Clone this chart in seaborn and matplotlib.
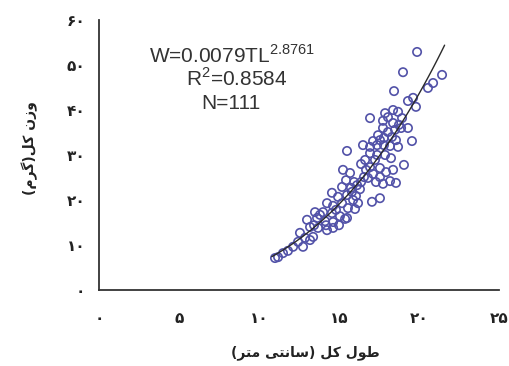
import matplotlib
matplotlib.use("Agg")
import matplotlib.pyplot as plt
import seaborn as sns
import numpy as np
import pandas as pd

# ---- data ----
total_length = [19.88, 19.0, 21.44, 20.88, 20.56, 18.44, 19.63, 19.31, 19.81, 18.38,
                17.88, 18.69, 16.94, 18.06, 17.75, 18.38, 18.75, 17.75, 18.06, 18.5,
                18.88, 19.31, 17.44, 17.81, 18.31, 19.56, 17.13, 16.5, 16.94, 17.38,
                17.81, 18.19, 18.69, 15.5, 16.94, 17.38, 17.88, 18.25, 16.63, 16.38,
                19.06, 16.94, 17.56, 17.94, 18.38, 15.25, 15.69, 16.56, 17.13, 17.56,
                15.44, 15.94, 16.38, 17.31, 17.75, 18.19, 16.81, 18.56, 15.19, 15.75,
                16.31, 14.56, 14.94, 15.5, 15.88, 16.19, 17.06, 17.56, 14.25, 14.63,
                15.19, 15.56, 16.0, 13.5, 14.0, 14.56, 15.06, 15.5, 13.0, 13.63,
                14.13, 14.63, 15.0, 15.38, 13.19, 13.69, 14.25, 14.63, 13.44, 12.56,
                12.88, 13.38, 12.44, 12.13, 12.75, 11.81, 11.5, 11.19, 11.0, 13.19,
                13.81, 14.81, 15.81, 16.13, 16.69, 17.25, 17.56, 18.56, 18.94, 14.19,
                16.06]
total_weight = [52.9, 48.4, 47.8, 46.0, 44.9, 44.2, 42.7, 42.0, 40.7, 40.0,
                39.3, 39.6, 38.2, 38.4, 37.6, 37.1, 36.7, 36.0, 35.1, 35.6,
                36.0, 36.0, 34.4, 33.8, 34.0, 33.1, 33.1, 32.2, 31.8, 32.2,
                32.2, 32.0, 31.8, 30.9, 30.4, 30.0, 30.0, 29.3, 28.9, 28.0,
                27.8, 27.3, 27.1, 26.2, 26.7, 26.7, 26.0, 25.1, 25.8, 25.1,
                24.4, 24.0, 24.0, 24.0, 23.6, 24.2, 24.9, 23.8, 22.9, 22.7,
                22.4, 21.6, 20.7, 21.1, 20.0, 19.3, 19.6, 20.4, 19.3, 18.7,
                19.3, 18.2, 18.0, 17.3, 17.3, 17.1, 16.4, 16.0, 15.6, 16.0,
                15.3, 15.1, 14.4, 15.8, 14.0, 13.8, 13.3, 13.8, 14.4, 12.7,
                11.6, 11.8, 10.7, 9.6, 9.6, 8.7, 8.2, 7.3, 7.1, 11.1,
                16.7, 17.8, 21.8, 23.3, 26.7, 28.9, 33.3, 33.3, 38.2, 14.4,
                20.9]

fit_a = 0.0079
fit_b = 2.8761
fit_r2 = 0.8584
n_obs = 111
fit_range = [10.8, 21.6]

x_ticks = [0, 5, 10, 15, 20, 25]
x_tick_labels = ["۰", "۵", "۱۰", "۱۵", "۲۰", "۲۵"]
y_ticks = [0, 10, 20, 30, 40, 50, 60]
y_tick_labels = ["۰", "۱۰", "۲۰", "۳۰", "۴۰", "۵۰", "۶۰"]

# Persian labels, pre-shaped (Arabic presentation forms, visual order)
# x: "طول کل (سانتی متر)"   y: "وزن کل(گرم)"
x_label = ("(" + "\uFEAE\uFE98\uFEE3" + " " + "\uFBFD\uFE98\uFEE7\uFE8E\uFEB3" + ")"
           + " " + "\uFEDE\uFB90" + " " + "\uFEDD\uFEEE\uFEC3")
y_label = ("(" + "\uFEE1\uFEAE\uFB94" + ")" + "\uFEDE\uFB90" + " " + "\uFEE5\uFEAF\uFEED")

df = pd.DataFrame({"TL": total_length, "W": total_weight})

sns.set_style("white")
plt.rcParams["font.family"] = ["DejaVu Sans"]
plt.rcParams["mathtext.fontset"] = "custom"
plt.rcParams["mathtext.rm"] = "Liberation Sans"

W, H = 509, 366
fig = plt.figure(figsize=(W / 100, H / 100), dpi=100)
ax = fig.add_axes([99 / W, 1 - 290 / H, (499 - 99) / W, (290 - 20) / H])

sns.scatterplot(data=df, x="TL", y="W", ax=ax, s=36, marker="o",
                facecolor="none", edgecolor="#5252a8", linewidth=1.2, legend=False)

xs = np.linspace(fit_range[0], fit_range[1], 100)
sns.lineplot(x=xs, y=fit_a * xs ** fit_b, ax=ax, color="#2a2a2a", linewidth=1.0)

ax.set_xlim(0, 25)
ax.set_ylim(0, 60)
ax.set_xticks(x_ticks)
ax.set_xticklabels(x_tick_labels, fontsize=11, fontweight="bold", color="#222222")
ax.set_yticks(y_ticks)
ax.set_yticklabels(y_tick_labels, fontsize=11, fontweight="bold", color="#222222")
ax.tick_params(axis="x", direction="out", length=5, width=1.2, pad=10, color="#333333")
ax.tick_params(axis="y", direction="out", length=5, width=1.2, pad=5, color="#333333")
ax.set_xlabel("")
ax.set_ylabel("")
for side in ["top", "right"]:
    ax.spines[side].set_visible(False)
for side in ["left", "bottom"]:
    ax.spines[side].set_color("#333333")
    ax.spines[side].set_linewidth(1.3)

fig.text(305 / W, 1 - 353 / H, x_label, ha="center", va="center",
         fontsize=10, fontweight="bold", color="#222222")
fig.text(30 / W, 1 - 148 / H, y_label, ha="center", va="center", rotation=90,
         fontsize=10, fontweight="bold", color="#222222")

txt_kw = dict(ha="center", va="baseline", fontsize=15, color="#333333",
              family="Liberation Sans")
fig.text(232 / W, 1 - 63 / H, "W=%.4fTL$^{\\mathregular{%.4f}}$" % (fit_a, fit_b), **txt_kw)
fig.text(237 / W, 1 - 86 / H, "R$^{\\mathregular{2}}$=%.4f" % fit_r2, **txt_kw)
fig.text(231 / W, 1 - 109 / H, "N=%d" % n_obs, **txt_kw)

fig.savefig("out.png", dpi=100)
